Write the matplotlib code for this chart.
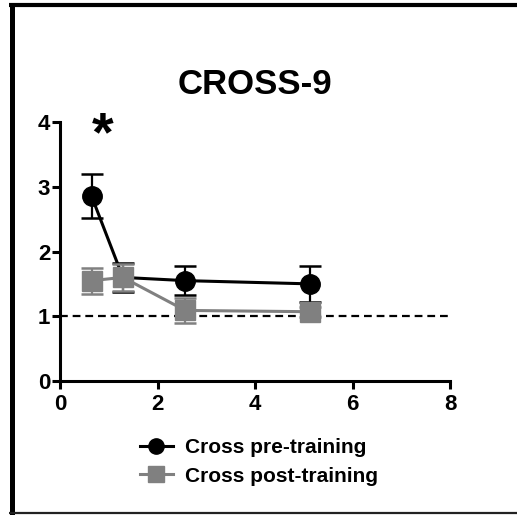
import matplotlib
matplotlib.use("Agg")
import matplotlib.pyplot as plt
from matplotlib.lines import Line2D

plt.rcParams['font.family'] = ['Liberation Sans', 'DejaVu Sans']
plt.rcParams['font.weight'] = 'bold'

# data
x_pre = [0.65, 1.29, 2.57, 5.13]
y_pre = [2.85, 1.60, 1.55, 1.50]
e_pre = [0.34, 0.23, 0.22, 0.28]
x_post = [0.65, 1.29, 2.57, 5.13]
y_post = [1.55, 1.60, 1.09, 1.07]
e_post = [0.20, 0.21, 0.19, 0.08]
labels = ["Cross pre-training", "Cross post-training"]
title = "CROSS-9"
xticks = [0, 2, 4, 6, 8]
yticks = [0, 1, 2, 3, 4]

W, H = 517, 515
fig = plt.figure(figsize=(W / 100, H / 100), dpi=100)
ax = fig.add_axes([60 / W, 1 - 381 / H, 390 / W, 259 / H])

grey = '#808080'
ax.errorbar(x_pre, y_pre, yerr=e_pre, color='black', marker='o', markersize=14,
            linewidth=2.2, elinewidth=1.6, capsize=8, capthick=1.8, zorder=3)
ax.errorbar(x_post, y_post, yerr=e_post, color=grey, marker='s', markersize=15,
            linewidth=2.2, elinewidth=1.6, capsize=8, capthick=1.8, zorder=4)
ax.plot([0, 8], [1, 1], color='black', linestyle=(0, (3.5, 2.2)), linewidth=1.6, zorder=2)
ax.text(0.88, 3.57, '*', fontsize=40, fontweight='bold', ha='center', va='baseline')

ax.set_xlim(0, 8)
ax.set_ylim(0, 4)
ax.set_xticks(xticks)
ax.set_yticks(yticks)
ax.spines['top'].set_visible(False)
ax.spines['right'].set_visible(False)
for s in ['left', 'bottom']:
    ax.spines[s].set_linewidth(2.2)
ax.tick_params(width=2.2, length=6, labelsize=16)
ax.tick_params(axis='y', pad=1)
ax.tick_params(axis='x', pad=3)
for lab in ax.get_xticklabels() + ax.get_yticklabels():
    lab.set_fontweight('bold')

fig.text(255 / W, 1 - 84 / H, title, fontsize=25, fontweight='bold', ha='center', va='center')

# legend
p1 = Line2D([], [], color='black', marker='o', markersize=11, linewidth=2.2)
p2 = Line2D([], [], color=grey, marker='s', markersize=12, linewidth=2.2)
leg = fig.legend(handles=[p1, p2], labels=labels, loc='center', bbox_to_anchor=(259 / W, 1 - 462 / H),
                 frameon=False, fontsize=15, handlelength=1.6, handletextpad=0.6,
                 labelspacing=0.45)
for t in leg.get_texts():
    t.set_fontweight('bold')

# frame of the figure
fig.add_artist(Line2D([11.5 / W, 11.5 / W], [0, 1 - 3 / H], transform=fig.transFigure,
                      color='black', linewidth=3.6, solid_capstyle='butt'))
fig.add_artist(Line2D([9 / W, 1], [1 - 5 / H, 1 - 5 / H], transform=fig.transFigure,
                      color='black', linewidth=3.0, solid_capstyle='butt'))
fig.add_artist(Line2D([9 / W, 1], [2 / H, 2 / H], transform=fig.transFigure,
                      color='#222222', linewidth=1.6, solid_capstyle='butt'))

fig.savefig('out.png', dpi=100)
